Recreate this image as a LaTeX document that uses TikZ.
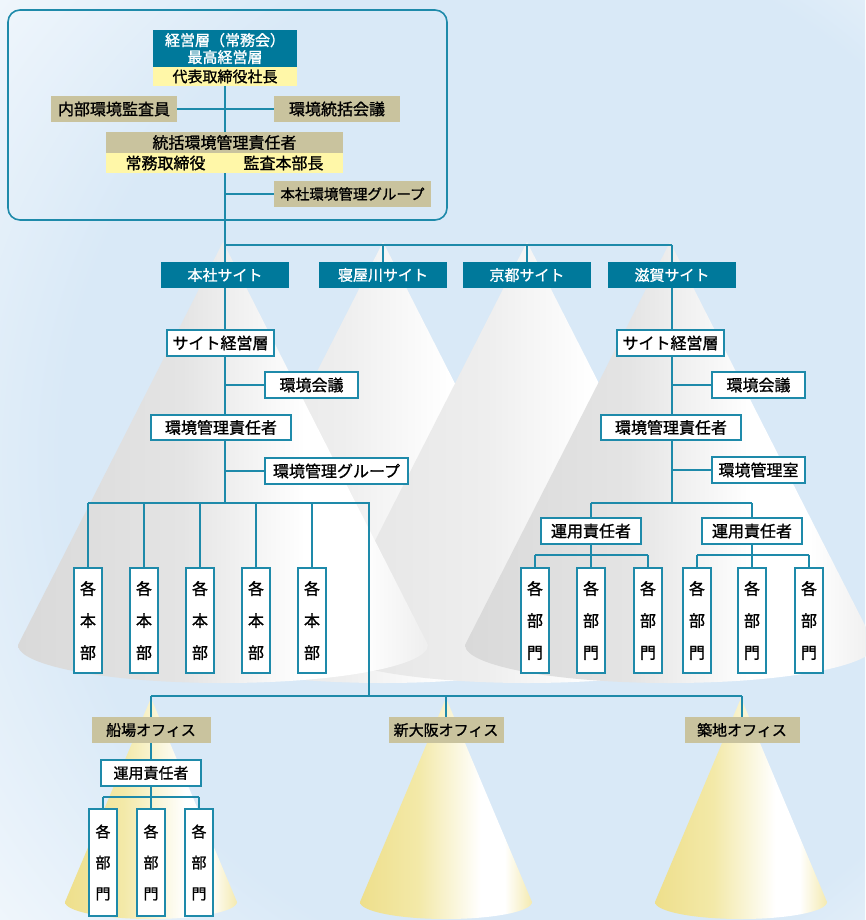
\documentclass[tikz,border=0pt]{standalone}
\usepackage{fontspec}
\newfontfamily\jp{Noto Sans CJK JP}[FakeBold=1.2]
\definecolor{tealfill}{HTML}{00799B}
\definecolor{tealline}{HTML}{1E8AAA}
\definecolor{tanfill}{HTML}{C9C39E}
\definecolor{yel}{HTML}{FFF7A8}
\definecolor{bgblue}{HTML}{D9E9F7}
\definecolor{cgA}{HTML}{D9D9D9}
\definecolor{cgB}{HTML}{E4E4E4}
\definecolor{cgC}{HTML}{EEEEEE}
\definecolor{cyA}{HTML}{EEDF8C}
\definecolor{cyB}{HTML}{F3E9A8}
\definecolor{cyC}{HTML}{F4EAB0}
\pgfdeclareradialshading{bgshade}{\pgfpoint{15bp}{0bp}}{color(0bp)=(bgblue); color(28bp)=(bgblue); color(45bp)=(white); color(50bp)=(white)}
\pgfdeclarehorizontalshading{conegrey}{100bp}{color(0bp)=(cgA); color(25bp)=(cgA); color(45bp)=(cgB); color(60bp)=(white); color(67bp)=(white); color(75bp)=(cgC); color(100bp)=(cgC)}
\pgfdeclarehorizontalshading{coneback}{100bp}{color(0bp)=(cgB); color(25bp)=(cgB); color(45bp)=(cgC); color(58bp)=(white); color(70bp)=(white); color(75bp)=(cgC); color(100bp)=(cgC)}
\pgfdeclarehorizontalshading{coneyel}{100bp}{color(0bp)=(cyA); color(25bp)=(cyA); color(42bp)=(cyB); color(60bp)=(white); color(67bp)=(white); color(75bp)=(cyC); color(100bp)=(cyC)}
\pgfdeclarelayer{bglayer}
\pgfdeclarelayer{linelayer}
\pgfsetlayers{bglayer,linelayer,main}
\tikzset{
  boxbase/.style={inner sep=0pt, minimum height=26, align=center, font=\jp\fontsize{16}{17}\selectfont, text=black},
  darkbox/.style={boxbase, fill=tealfill, text=white, font=\jp\fontsize{15}{17}\selectfont},
  tanbox/.style={boxbase, fill=tanfill},
  yelbox/.style={boxbase, fill=yel},
  wbox/.style={boxbase, fill=white, draw=tealline, line width=1.4},
  vbox/.style={wbox, minimum width=28, minimum height=105, font=\jp\fontsize{16}{32}\selectfont},
  conn/.style={draw=tealline, line width=1.4},
  frame/.style={draw=tealline, line width=1.6, rounded corners=12},
  greycone/.style={shading=conegrey},
  backcone/.style={shading=coneback},
  yelcone/.style={shading=coneyel}
}
\begin{document}
\begin{tikzpicture}[x=1pt,y=-1pt]
\useasboundingbox (0,0) rectangle (865,920);
\begin{pgfonlayer}{bglayer}
  \shade[shading=bgshade] (0,0) rectangle (865,920);
  % grey cones (back)
  \foreach \cx in {383,527}{
    \shade[backcone] (\cx,242) -- (\cx-205,645) arc[start angle=180, end angle=0, x radius=205, y radius=38] -- cycle;
  }
  \foreach \cx in {223,670}{
    \shade[greycone] (\cx,242) -- (\cx-205,645) arc[start angle=180, end angle=0, x radius=205, y radius=38] -- cycle;
  }
  % yellow cones
  \foreach \cx in {151,446,741}{
    \shade[yelcone] (\cx,698) -- (\cx-86,902) arc[start angle=180, end angle=0, x radius=86, y radius=17] -- cycle;
  }
\end{pgfonlayer}

% top management
\node[darkbox, minimum width=144, minimum height=37] (top1) at (225,48.5) {経営層（常務会）\\最高経営層};
\node[yelbox, minimum width=144, minimum height=19, font=\jp\fontsize{15}{17}\selectfont] (top2) at (225,76.5) {代表取締役社長};
\node[tanbox, minimum width=126] (audit) at (114,109) {内部環境監査員};
\node[tanbox, minimum width=126] (council) at (337,109) {環境統括会議};
\node[tanbox, minimum width=237, minimum height=21] (chief) at (224.5,142.5) {統括環境管理責任者};
\node[yelbox, minimum width=237, minimum height=20] (chiefsub) at (224.5,163) {常務取締役\hspace{38pt}監査本部長};
\node[tanbox, minimum width=157, font=\jp\fontsize{14.5}{17}\selectfont] (hqg) at (352.5,194) {本社環境管理グループ};

% sites
\node[darkbox, minimum width=128] (s1) at (225,275) {本社サイト};
\node[darkbox, minimum width=128] (s2) at (383,275) {寝屋川サイト};
\node[darkbox, minimum width=128] (s3) at (527,275) {京都サイト};
\node[darkbox, minimum width=128] (s4) at (672,275) {滋賀サイト};

% honsha site
\node[wbox, minimum width=107] (sm1) at (220.5,343) {サイト経営層};
\node[wbox, minimum width=93] (mt1) at (311.5,385) {環境会議};
\node[wbox, minimum width=140, minimum height=25] (mg1) at (221,427.5) {環境管理責任者};
\node[wbox, minimum width=143] (gr1) at (336.5,471) {環境管理グループ};
\foreach \i/\x in {1/88,2/144,3/200,4/256,5/312}
  \node[vbox] (hb\i) at (\x,620.5) {各\\本\\部};

% shiga site
\node[wbox, minimum width=107] (sm4) at (670.5,343) {サイト経営層};
\node[wbox, minimum width=93] (mt4) at (758.5,385) {環境会議};
\node[wbox, minimum width=140, minimum height=25] (mg4) at (671,427.5) {環境管理責任者};
\node[wbox, minimum width=93] (rm4) at (758.5,470) {環境管理室};
\node[wbox, minimum width=100] (op4a) at (591,531) {運用責任者};
\node[wbox, minimum width=100] (op4b) at (752,531) {運用責任者};
\foreach \i/\x in {1/535,2/591,3/648,4/697,5/752,6/809}
  \node[vbox] (db\i) at (\x,620.5) {各\\部\\門};

% offices
\node[tanbox, minimum width=119, font=\jp\fontsize{15}{17}\selectfont] (of1) at (151,730) {船場オフィス};
\node[tanbox, minimum width=115, font=\jp\fontsize{15}{17}\selectfont] (of2) at (446,730) {新大阪オフィス};
\node[tanbox, minimum width=115, font=\jp\fontsize{15}{17}\selectfont] (of3) at (742,730) {築地オフィス};
\node[wbox, minimum width=100, font=\jp\fontsize{15}{17}\selectfont] (op1) at (151,773) {運用責任者};
\foreach \i/\x in {1/103,2/151,3/199}
  \node[vbox, minimum height=107, font=\jp\fontsize{15}{31}\selectfont] (ob\i) at (\x,862.5) {各\\部\\門};

\begin{pgfonlayer}{linelayer}
  \draw[frame] (8,10) rectangle (447,220);
  \coordinate (busA) at (225,245);
  \coordinate (busB) at (672,245);
  \draw[conn] (top2.south) -- (busA) -- (busB);
  \draw[conn] (audit.east) -- (council.west);
  \draw[conn] (hqg.west) -- (hqg.west -| busA);
  \foreach \n in {s1,s2,s3,s4} \draw[conn] (\n.north |- busA) -- (\n.north);
  % honsha
  \coordinate (b1) at (225,503);
  \coordinate (b1L) at (88,503);
  \coordinate (b1R) at (369,503);
  \coordinate (obus) at (369,696);
  \draw[conn] (s1.south) -- (b1);
  \draw[conn] (mt1.west) -- (mt1.west -| b1);
  \draw[conn] (gr1.west) -- (gr1.west -| b1);
  \draw[conn] (b1L) -- (b1R) -- (obus);
  \foreach \i in {1,...,5} \draw[conn] (hb\i.north |- b1L) -- (hb\i.north);
  % shiga
  \coordinate (b4) at (672,503);
  \draw[conn] (s4.south) -- (b4);
  \draw[conn] (mt4.west) -- (mt4.west -| b4);
  \draw[conn] (rm4.west) -- (rm4.west -| b4);
  \draw[conn] (op4a.north |- b4) -- (op4b.north |- b4);
  \draw[conn] (op4a.north |- b4) -- (op4a.north);
  \draw[conn] (op4b.north |- b4) -- (op4b.north);
  \coordinate (sA) at (591,555);
  \draw[conn] (op4a.south) -- (op4a.south |- sA);
  \draw[conn] (op4b.south) -- (op4b.south |- sA);
  \draw[conn] (db1.north |- sA) -- (db3.north |- sA);
  \draw[conn] (db4.north |- sA) -- (db6.north |- sA);
  \foreach \i in {1,...,6} \draw[conn] (db\i.north |- sA) -- (db\i.north);
  % offices
  \draw[conn] (of1.north |- obus) -- (of3.north |- obus);
  \foreach \n in {of1,of2,of3} \draw[conn] (\n.north |- obus) -- (\n.north);
  \draw[conn] (of1.south) -- (op1.north);
  \coordinate (sO) at (151,797);
  \draw[conn] (op1.south) -- (op1.south |- sO);
  \draw[conn] (ob1.north |- sO) -- (ob3.north |- sO);
  \foreach \i in {1,2,3} \draw[conn] (ob\i.north |- sO) -- (ob\i.north);
\end{pgfonlayer}
\end{tikzpicture}
\end{document}
